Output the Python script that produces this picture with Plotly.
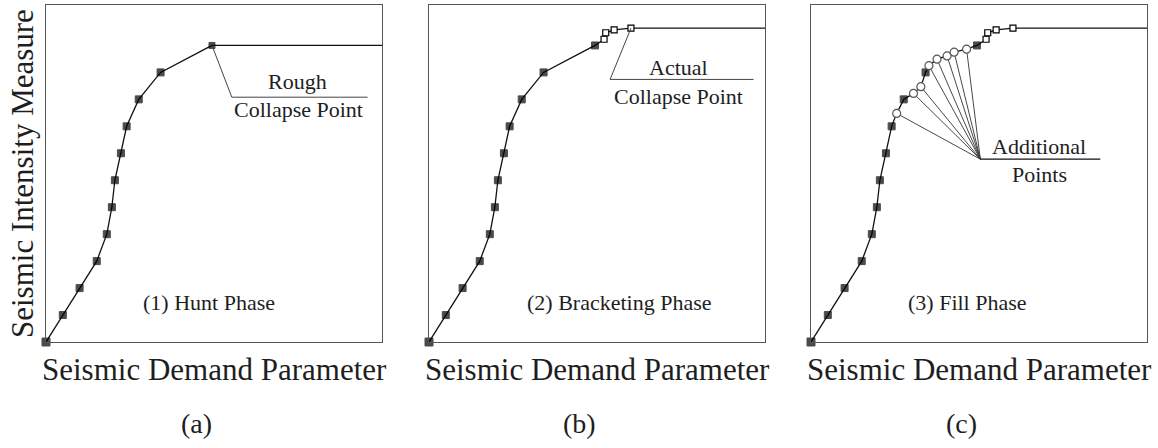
import plotly.graph_objects as go

# ---- data (demand parameter, intensity measure) ----
hunt_edp = [0, 0.50, 1.00, 1.51, 1.81, 1.96, 2.05, 2.23, 2.40, 2.76, 3.41, 4.94]
hunt_im = [0, 1, 2, 3, 4, 5, 6, 7, 8, 9, 10, 11]

bracket_edp = [5.21, 5.26, 5.51, 6.01]
bracket_im = [11.23, 11.47, 11.58, 11.64]

fill_edp = [2.55, 3.05, 3.27, 3.51, 3.75, 4.05, 4.26, 4.63]
fill_im = [8.48, 9.22, 9.47, 10.25, 10.49, 10.61, 10.75, 10.86]

x_max = 10.0
y_max = 12.5

phase_labels = ["(1) Hunt Phase", "(2) Bracketing Phase", "(3) Fill Phase"]
panel_labels = ["(a)", "(b)", "(c)"]
x_title = "Seismic Demand Parameter"
y_title = "Seismic Intensity Measure"

W, H = 1158, 448
FONT = "Liberation Serif, Times New Roman, serif"
TXT = "#1e1e1e"
LINE = "#111111"
FRAME = "#555555"

box_px = [(46, 382), (429, 765), (811, 1147)]
top_px, bot_px = 5, 342

fig = go.Figure()


def px_x(p):
    return p / W


def px_y(p):
    return 1 - p / H


axes = [("x", "y"), ("x2", "y2"), ("x3", "y3")]

for i, (xa, ya) in enumerate(axes):
    l, r = box_px[i]
    sfx = "" if i == 0 else str(i + 1)
    fig.update_layout(**{
        "xaxis" + sfx: dict(domain=[px_x(l), px_x(r)], range=[0, x_max], showgrid=False,
                            zeroline=False, showticklabels=False, ticks="", showline=True,
                            mirror=True, linecolor=FRAME, linewidth=1, anchor=ya, fixedrange=True),
        "yaxis" + sfx: dict(domain=[px_y(bot_px), px_y(top_px)], range=[0, y_max], showgrid=False,
                            zeroline=False, showticklabels=False, ticks="", showline=True,
                            mirror=True, linecolor=FRAME, linewidth=1, anchor=xa, fixedrange=True),
    })

SQ = dict(symbol="square", color="black", line=dict(color="black", width=1))

# ---------- panel (a) ----------
fig.add_trace(go.Scatter(x=[hunt_edp[-1], x_max], y=[hunt_im[-1], hunt_im[-1]], mode="lines",
                         line=dict(color=LINE, width=1.3), xaxis="x", yaxis="y", cliponaxis=False))
fig.add_trace(go.Scatter(x=hunt_edp, y=hunt_im, mode="lines+markers",
                         line=dict(color=LINE, width=1.3),
                         marker=dict(size=[8] + [7] * 10 + [6], **SQ),
                         xaxis="x", yaxis="y", cliponaxis=False))

# ---------- panel (b) ----------
b_edp = hunt_edp + bracket_edp
b_im = hunt_im + bracket_im
fig.add_trace(go.Scatter(x=[bracket_edp[-1], x_max], y=[bracket_im[-1], bracket_im[-1]], mode="lines",
                         line=dict(color=LINE, width=1.3), xaxis="x2", yaxis="y2", cliponaxis=False))
fig.add_trace(go.Scatter(x=b_edp, y=b_im, mode="lines", line=dict(color=LINE, width=1.3),
                         xaxis="x2", yaxis="y2", cliponaxis=False))
fig.add_trace(go.Scatter(x=hunt_edp, y=hunt_im, mode="markers",
                         marker=dict(size=[8] + [7] * 11, **SQ),
                         xaxis="x2", yaxis="y2", cliponaxis=False))
fig.add_trace(go.Scatter(x=bracket_edp, y=bracket_im, mode="markers",
                         marker=dict(symbol="square", size=6, color="white",
                                     line=dict(color="black", width=1.2)),
                         xaxis="x2", yaxis="y2", cliponaxis=False))

# ---------- panel (c) ----------
pairs = sorted(zip(hunt_im + fill_im + bracket_im, hunt_edp + fill_edp + bracket_edp))
c_im = [p[0] for p in pairs]
c_edp = [p[1] for p in pairs]

# fan of leader lines to additional points
fan_x, fan_y = 5.04, 6.78
lx, ly = [], []
for ex, iy in zip(fill_edp, fill_im):
    lx += [fan_x, ex, None]
    ly += [fan_y, iy, None]
fig.add_trace(go.Scatter(x=lx, y=ly, mode="lines", line=dict(color="#333333", width=0.9),
                         xaxis="x3", yaxis="y3"))
fig.add_trace(go.Scatter(x=[fan_x, 8.61], y=[fan_y, fan_y], mode="lines",
                         line=dict(color=LINE, width=1.2), xaxis="x3", yaxis="y3"))

fig.add_trace(go.Scatter(x=[bracket_edp[-1], x_max], y=[bracket_im[-1], bracket_im[-1]], mode="lines",
                         line=dict(color=LINE, width=1.3), xaxis="x3", yaxis="y3", cliponaxis=False))
fig.add_trace(go.Scatter(x=c_edp, y=c_im, mode="lines", line=dict(color=LINE, width=1.3),
                         xaxis="x3", yaxis="y3", cliponaxis=False))
fig.add_trace(go.Scatter(x=hunt_edp, y=hunt_im, mode="markers",
                         marker=dict(size=[8] + [7] * 11, **SQ),
                         xaxis="x3", yaxis="y3", cliponaxis=False))
fig.add_trace(go.Scatter(x=bracket_edp, y=bracket_im, mode="markers",
                         marker=dict(symbol="square", size=6, color="white",
                                     line=dict(color="black", width=1.2)),
                         xaxis="x3", yaxis="y3", cliponaxis=False))
fig.add_trace(go.Scatter(x=fill_edp, y=fill_im, mode="markers",
                         marker=dict(symbol="circle", size=8, color="white",
                                     line=dict(color="#555555", width=1.2)),
                         xaxis="x3", yaxis="y3", cliponaxis=False))

# ---------- leader lines (a) and (b) ----------
fig.add_trace(go.Scatter(x=[hunt_edp[-1], 5.53, 9.57], y=[hunt_im[-1], 9.08, 9.08], mode="lines",
                         line=dict(color="#444444", width=1.0), xaxis="x", yaxis="y"))
fig.add_trace(go.Scatter(x=[bracket_edp[-1], 5.39, 9.66], y=[bracket_im[-1], 9.74, 9.74], mode="lines",
                         line=dict(color="#444444", width=1.0), xaxis="x2", yaxis="y2"))

ann = []


def txt(text, x, y, xref, yref, size, xanchor="center"):
    ann.append(dict(text=text, x=x, y=y, xref=xref, yref=yref, showarrow=False,
                    xanchor=xanchor, yanchor="middle",
                    font=dict(family=FONT, size=size, color=TXT)))


txt("Rough", 7.49, 9.66, "x", "y", 22)
txt("Collapse Point", 7.5, 8.61, "x", "y", 22)
txt("Actual", 7.43, 10.17, "x2", "y2", 22)
txt("Collapse Point", 7.42, 9.12, "x2", "y2", 22)
txt("Additional", 6.8, 7.24, "x3", "y3", 22)
txt("Points", 6.8, 6.2, "x3", "y3", 22)

phase_x = [4.86, 5.66, 4.66]
for i, (xa, ya) in enumerate(axes):
    txt(phase_labels[i], phase_x[i], 1.46, xa, ya, 22)
    l, r = box_px[i]
    txt(x_title, px_x((l + r) / 2), px_y(369), "paper", "paper", 31)
    txt(panel_labels[i], px_x((l + r) / 2 - 18), px_y(423), "paper", "paper", 28)

ann.append(dict(text=y_title, x=px_x(22), y=px_y(174), xref="paper", yref="paper",
                showarrow=False, textangle=-90, xanchor="center", yanchor="middle",
                font=dict(family=FONT, size=31, color=TXT)))

fig.update_layout(width=W, height=H, margin=dict(l=0, r=0, t=0, b=0),
                  paper_bgcolor="white", plot_bgcolor="white", showlegend=False,
                  hovermode=False, annotations=ann)

fig.write_html("out.html", config={"displayModeBar": False, "staticPlot": True},
               post_script="document.body.style.margin='0';document.body.style.overflow='hidden';")
